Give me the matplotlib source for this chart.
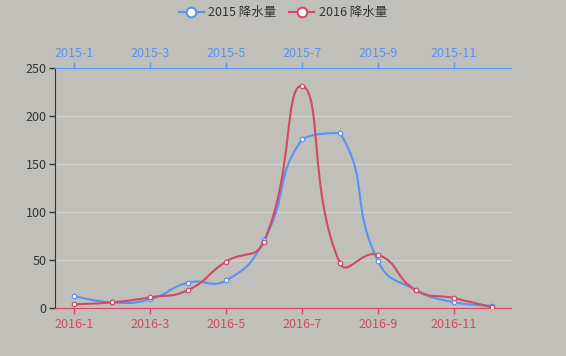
import numpy as np
import matplotlib
matplotlib.use("Agg")
import matplotlib.pyplot as plt
from matplotlib.path import Path
from matplotlib.patches import PathPatch
from matplotlib.lines import Line2D

plt.rcParams['font.family'] = ['Noto Sans CJK SC', 'DejaVu Sans']

# data
months_2015 = ['2015-%d' % m for m in range(1, 13)]
months_2016 = ['2016-%d' % m for m in range(1, 13)]
rain_2015 = [12.6, 5.9, 9.0, 26.4, 28.7, 70.7, 175.6, 182.2, 48.7, 18.8, 6.0, 2.3]
rain_2016 = [3.9, 5.9, 11.1, 18.7, 48.3, 69.2, 231.6, 46.6, 55.4, 18.4, 10.3, 0.7]
series_names = ['2015 降水量', '2016 降水量']
y_ticks = [0, 50, 100, 150, 200, 250]

c_blue = '#5793f3'
c_red = '#d14a61'
bg = '#c1bfba'


def smooth_path(ax, xs, ys, smooth=0.5):
    # echarts-like bezier smoothing in pixel space, control points kept
    # inside the bounding box of the series
    pts = ax.transData.transform(np.column_stack([xs, ys]))
    lo, hi = pts.min(axis=0), pts.max(axis=0)
    n = len(pts)
    cp_in = [pts[0]] * n
    cp_out = [pts[0]] * n
    cp_in[-1] = pts[-1]
    for i in range(1, n - 1):
        p, prv, nxt = pts[i], pts[i - 1], pts[i + 1]
        v = (nxt - prv) * smooth
        d0 = np.hypot(*(p - prv))
        d1 = np.hypot(*(p - nxt))
        s = d0 + d1
        if s != 0:
            d0, d1 = d0 / s, d1 / s
        cp_in[i] = np.clip(p - v * d0, lo, hi)
        cp_out[i] = np.clip(p + v * d1, lo, hi)
    verts = [pts[0]]
    codes = [Path.MOVETO]
    for i in range(n - 1):
        verts += [cp_out[i], cp_in[i + 1], pts[i + 1]]
        codes += [Path.CURVE4] * 3
    verts = ax.transData.inverted().transform(np.array(verts))
    return Path(verts, codes)


fig = plt.figure(figsize=(5.66, 3.56), dpi=100)
fig.patch.set_facecolor(bg)
ax = fig.add_axes([55 / 566, 48 / 356, 456 / 566, 240 / 356])
ax.set_facecolor(bg)
ax.set_xlim(-0.5, 11.5)
ax.set_ylim(0, 250)

x = np.arange(12)

# grid
for yv in y_ticks[1:]:
    ax.axhline(yv, color='#d2d0cb', lw=1.0, zorder=0)

for vals, col in [(rain_2015, c_blue), (rain_2016, c_red)]:
    path = smooth_path(ax, x, vals)
    ax.add_patch(PathPatch(path, facecolor='none', edgecolor=col, lw=1.5, zorder=3))
    ax.plot(x, vals, linestyle='none', marker='o', ms=3.2, mfc='white', mec=col,
            mew=0.9, zorder=4)

# axes styling
for s in ['right', 'top']:
    ax.spines[s].set_visible(False)
ax.spines['left'].set_color('#333333')
ax.spines['bottom'].set_color(c_red)
ax.set_yticks(y_ticks)
ax.tick_params(axis='y', colors='#333333', length=4, width=1, labelsize=9, pad=2)
ax.set_xticks(x[::2])
ax.set_xticklabels(months_2016[::2])
ax.tick_params(axis='x', colors=c_red, length=4, width=1, labelsize=9, pad=3)

ax2 = ax.twiny()
ax2.set_xlim(ax.get_xlim())
for s in ['right', 'bottom', 'left']:
    ax2.spines[s].set_visible(False)
ax2.spines['top'].set_color(c_blue)
ax2.set_xticks(x[::2])
ax2.set_xticklabels(months_2015[::2])
ax2.tick_params(axis='x', colors=c_blue, length=4, width=1, labelsize=9, pad=2)

handles = [Line2D([0], [0], color=c, lw=1.5, marker='o', ms=7, mfc='white', mec=c, mew=1.5)
           for c in (c_blue, c_red)]
fig.legend(handles, series_names, loc='upper center', bbox_to_anchor=(0.5, 1.015), ncol=2,
           frameon=False, fontsize=9, handlelength=2.0, columnspacing=1.0,
           handletextpad=0.4, labelcolor='#333333')

fig.savefig('out.png', dpi=100, facecolor=bg)
